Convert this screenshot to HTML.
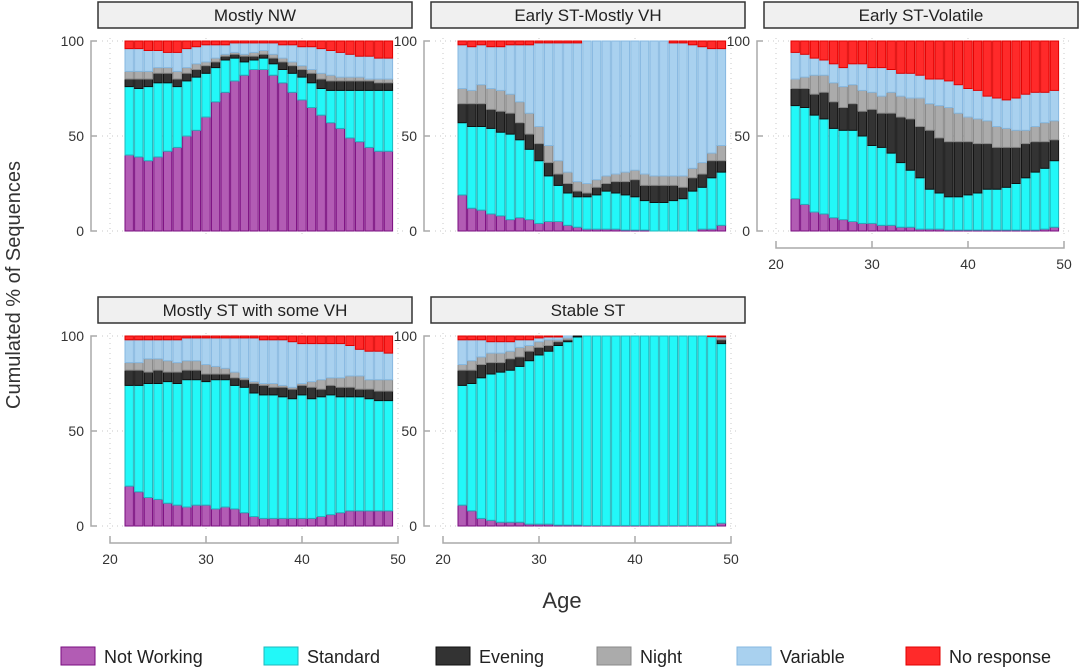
<!DOCTYPE html>
<html><head><meta charset="utf-8"><style>
html,body{margin:0;padding:0;background:#fff;}
svg{display:block;font-family:"Liberation Sans",sans-serif;}
</style></head><body>
<svg id="chart" width="1080" height="670" xmlns="http://www.w3.org/2000/svg"></svg>
<script>
const ages = [22,23,24,25,26,27,28,29,30,31,32,33,34,35,36,37,38,39,40,41,42,43,44,45,46,47,48,49];
const states = ["Not Working","Standard","Evening","Night","Variable","No response"];
const panelTitles = ["Mostly NW","Early ST-Mostly VH","Early ST-Volatile","Mostly ST with some VH","Stable ST"];
const xTicks = [20,30,40,50];
const yTicks = [0,50,100];
// cumulative tops (%) per panel: NW, +ST, +Evening, +Night, +Variable (No response fills to 100)
const p1NW = [40,39,37,39,42,44,50,53,60,68,73,79,82,85,85,82,78,73,69,65,61,57,54,49,47,44,42,42];
const p1ST = [76,75,76,78,78,76,79,81,83,86,90,91,89,90,91,88,85,83,81,78,75,74,74,74,74,74,74,74];
const p1EV = [80,80,80,83,83,80,83,85,87,89,92,93,92,92,93,91,89,87,85,83,80,79,79,79,79,79,78,78];
const p1NI = [84,84,84,86,86,84,86,88,89,91,93,94,93,94,95,93,91,89,87,85,83,82,81,81,81,80,80,80];
const p1VH = [96,96,95,95,94,94,96,97,98,98,98,99,99,99,99,99,98,98,97,97,96,95,94,93,92,92,91,91];
const p2NW = [19,12,11,9,8,6,7,6,4,5,5,3,2,1,1,1,1,0.5,0.5,0.5,0,0,0,0,0,1,1,3];
const p2ST = [57,55,55,54,52,51,48,43,37,29,24,20,18,18,19,21,20,19,18,16,15,15,16,17,21,23,28,31];
const p2EV = [67,67,67,64,63,62,57,51,46,36,30,25,21,20,23,25,26,26,27,24,24,24,24,23,28,30,37,37];
const p2NI = [75,74,77,75,74,72,68,62,55,45,37,31,26,25,27,29,30,31,32,30,29,29,29,29,33,36,41,45];
const p2VH = [98,97,98,97,97,98,98,98,99,99,99,99,99,100,100,100,100,100,100,100,100,100,99,99,98,97,96,96];
const p3NW = [17,14,10,9,7,6,5,4,4,3,3,2,2,1,1,1,0.5,0.5,0.5,0.5,0.5,0.5,0.5,0.5,0.5,0.5,1,2];
const p3ST = [66,65,61,59,54,53,53,50,45,44,41,36,32,28,22,20,18,18,19,20,22,22,23,25,28,31,33,37];
const p3EV = [75,75,72,73,68,65,67,63,64,62,62,60,59,55,53,49,47,47,47,46,46,44,44,44,46,47,47,48];
const p3NI = [80,81,82,82,78,76,77,74,73,71,73,71,70,70,67,66,65,62,60,59,58,55,54,53,53,55,57,58];
const p3VH = [94,93,91,90,88,86,88,88,86,86,85,83,83,82,80,80,79,77,75,74,71,70,69,70,72,73,73,74];
const p4NW = [21,18,15,14,12,11,10,11,11,9,10,9,7,5,4,4,4,4,4,4,5,6,7,8,8,8,8,8];
const p4ST = [74,74,75,75,76,75,77,77,76,77,77,74,73,70,69,69,68,67,69,67,68,69,68,68,68,67,66,66];
const p4EV = [82,82,81,82,81,81,82,82,80,80,80,78,77,75,74,73,73,72,74,73,72,74,73,73,72,72,71,71];
const p4NI = [86,86,88,88,87,86,87,87,85,84,83,81,78,76,75,75,74,73,75,76,77,78,78,79,79,77,77,77];
const p4VH = [98,98,98,98,98,98,99,99,99,99,99,99,99,99,98,98,98,97,96,96,96,96,96,95,93,92,92,91];
const p5NW = [11,8,4,3,2,2,2,1,1,1,0.5,0.5,0.5,0.3,0.3,0.3,0.3,0.3,0.3,0.3,0.3,0.3,0.3,0.3,0.3,0.3,0.3,1.5];
const p5ST = [74,75,78,80,81,82,84,87,90,92,95,97,99.5,100,100,100,100,100,100,100,100,100,100,100,100,100,99.5,96];
const p5EV = [82,82,85,86,86,88,89,92,94,95,97,98,100,100,100,100,100,100,100,100,100,100,100,100,100,100,99.5,98];
const p5NI = [85,87,89,91,91,92,94,95,97,98,98,99,100,100,100,100,100,100,100,100,100,100,100,100,100,100,99.6,99];
const p5VH = [98,98,98,97,97,97,98,98,99,99.5,99.5,100,100,100,100,100,100,100,100,100,100,100,100,100,100,100,99.7,99.5];
const panelData = [[p1NW,p1ST,p1EV,p1NI,p1VH],[p2NW,p2ST,p2EV,p2NI,p2VH],[p3NW,p3ST,p3EV,p3NI,p3VH],[p4NW,p4ST,p4EV,p4NI,p4VH],[p5NW,p5ST,p5EV,p5NI,p5VH]];

const fills = ["#b25cb4","#22f8f8","#333333","#ababab","#a9d1ef","#ff2a2a"];
const strokes = ["#7a0d80","#1fb8bd","#111111","#888888","#86b8e0","#e00000"];
const NS="http://www.w3.org/2000/svg";
const svg=document.getElementById('chart');
function el(tag,attrs,parent){const e=document.createElementNS(NS,tag);for(const k in attrs)e.setAttribute(k,attrs[k]);(parent||svg).appendChild(e);return e;}

const pxPerYear=9.6;
panelData.forEach((series,pi)=>{
  const col=pi%3,row=Math.floor(pi/3);
  const ox=333*col, oy=295*row;
  const xS=a=>110+ox+(a-20)*pxPerYear;
  const yS=v=>231+oy-v*1.9;
  const g=el('g',{});
  
  
  // strip
  const st=el('rect',{x:98+ox,y:2+oy,width:314,height:26,fill:'#f0f0f0',stroke:'#333','stroke-width':1.5},g);
  
  
  const tt=el('text',{x:255+ox,y:21+oy,'text-anchor':'middle','font-size':17,fill:'#222'},g);
  tt.textContent=panelTitles[pi];
  
  
  // grid
  xTicks.forEach(t=>{el('line',{x1:xS(t),x2:xS(t),y1:yS(100)-3,y2:yS(0)+3,stroke:'#c8c8c8','stroke-dasharray':'1,4'},g);});
  yTicks.forEach(t=>{el('line',{x1:xS(20)-8,x2:xS(50)+8,y1:yS(t),y2:yS(t),stroke:'#c8c8c8','stroke-dasharray':'1,4'},g);});
  // y axis
  el('path',{d:`M${97+ox},${yS(100)} H${91+ox} V${yS(0)} H${97+ox} M${91+ox},${yS(50)} H${97+ox}`,fill:'none',stroke:'#aaa','stroke-width':1.5},g);
  yTicks.forEach(t=>{const tx=el('text',{x:84+ox,y:yS(t)+5,'text-anchor':'end','font-size':14,fill:'#333'},g);tx.textContent=t;
    
    });
  // bars
  ages.forEach((a,i)=>{
    let prev=0;
    for(let s=0;s<6;s++){
      const top=s<5?series[s][i]:100;
      const h=(top-prev)*1.9;
      if(h>0.05){
        const r=el('rect',{x:xS(a)-pxPerYear/2+0.6,y:yS(top),width:pxPerYear-1.2,height:h,fill:fills[s],stroke:strokes[s],'stroke-width':1},g);
        
        
      }
      prev=Math.max(prev,top);
    }
  });
  // x axis for bottom panels
  if(row===1||pi===2){
    const ay=yS(0)+17;
    el('path',{d:`M${xS(20)},${ay-7} V${ay} H${xS(50)} V${ay-7} M${xS(30)},${ay} V${ay-7} M${xS(40)},${ay} V${ay-7}`,fill:'none',stroke:'#aaa','stroke-width':1.5},g);
    xTicks.forEach(t=>{const tx=el('text',{x:xS(t),y:ay+21,'text-anchor':'middle','font-size':14,fill:'#333'},g);tx.textContent=t;
      
      });
  }
});
const yt=el('text',{x:0,y:0,'font-size':20,fill:'#333','text-anchor':'middle',transform:'translate(20,285) rotate(-90)'});
yt.textContent='Cumulated % of Sequences';


const xt=el('text',{x:562,y:608,'font-size':22,fill:'#333','text-anchor':'middle'});
xt.textContent='Age';


const legX=[61,264,436,597,737,906];
states.forEach((s,i)=>{
  const g=el('g',{});
  
  
  el('rect',{x:legX[i],y:647,width:34,height:18,fill:fills[i],stroke:strokes[i],'stroke-width':1},g);
  const t=el('text',{x:legX[i]+43,y:663,'font-size':18,fill:'#222'},g);
  t.textContent=s;
});
</script>
</body></html>
